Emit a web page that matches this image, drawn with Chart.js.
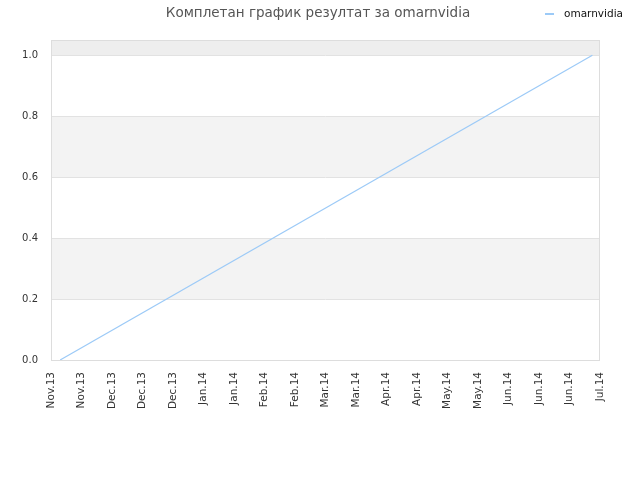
<!DOCTYPE html>
<html>
<head>
<meta charset="utf-8">
<script src="https://cdn.jsdelivr.net/npm/chart.js@4"></script>
<style>
  html, body { margin: 0; padding: 0; background: #fff; }
  #wrap { width: 640px; height: 480px; }
</style>
</head>
<body>
<div id="wrap"><canvas id="chart"></canvas></div>
<script>
var chartTitle = 'Комплетан график резултат за omarnvidia';
var seriesName = 'omarnvidia';
var monthLabels = ['Nov.13', 'Nov.13', 'Dec.13', 'Dec.13', 'Dec.13', 'Jan.14', 'Jan.14', 'Feb.14', 'Feb.14',
                   'Mar.14', 'Mar.14', 'Apr.14', 'Apr.14', 'May.14', 'May.14', 'Jun.14', 'Jun.14', 'Jun.14', 'Jul.14'];
// position along the date axis (in label steps) and result value
var pointPos = [0.3, 17.75];
var pointVal = [0, 1];
var yTicks = [0, 0.2, 0.4, 0.6, 0.8, 1.0];
var yMax = 1.05;

var points = pointPos.map(function (p, i) { return { x: p, y: pointVal[i] }; });

// alternating background bands + frame, title and legend
var decor = {
  id: 'decor',
  beforeDatasetsDraw: function (chart) {
    var c = chart.ctx, a = chart.chartArea, y = chart.scales.y;
    c.save();
    var bands = [[0.2, 0.4, '#f3f3f3'], [0.6, 0.8, '#f3f3f3'], [1.0, yMax, '#eeeeee']];
    bands.forEach(function (b) {
      var top = y.getPixelForValue(b[1]), bot = y.getPixelForValue(b[0]);
      c.fillStyle = b[2];
      c.fillRect(a.left, top, a.right - a.left, bot - top);
    });
    yTicks.forEach(function (t) {
      var py = Math.round(y.getPixelForValue(t)) + 0.5;
      c.strokeStyle = '#e2e2e2';
      c.lineWidth = 1;
      c.beginPath(); c.moveTo(a.left, py); c.lineTo(a.right, py); c.stroke();
    });
    c.strokeStyle = '#dddddd';
    c.strokeRect(a.left + 0.5, a.top + 0.5, a.right - a.left - 1, a.bottom - a.top);
    c.restore();
  },
  afterDraw: function (chart) {
    var c = chart.ctx;
    c.save();
    c.font = '13.5px "DejaVu Sans", sans-serif';
    c.fillStyle = '#555555';
    c.textAlign = 'center';
    c.textBaseline = 'middle';
    c.fillText(chartTitle, 318, 13);
    c.strokeStyle = '#9ccaf7';
    c.lineWidth = 2;
    c.beginPath(); c.moveTo(545, 14); c.lineTo(554, 14); c.stroke();
    c.font = '10.5px "DejaVu Sans", sans-serif';
    c.fillStyle = '#111111';
    c.textAlign = 'left';
    c.fillText(seriesName, 564, 14);
    c.restore();
  }
};

new Chart(document.getElementById('chart'), {
  type: 'line',
  data: {
    datasets: [{
      label: seriesName,
      data: points,
      borderColor: '#9ccaf7',
      borderWidth: 1.2,
      pointRadius: 0,
      fill: false,
      tension: 0
    }]
  },
  options: {
    responsive: true,
    maintainAspectRatio: false,
    animation: false,
    layout: { padding: { top: 40, right: 40, left: 0, bottom: 0 } },
    plugins: {
      legend: { display: false },
      title: { display: false },
      tooltip: { enabled: false }
    },
    scales: {
      x: {
        type: 'linear',
        min: 0,
        max: monthLabels.length - 1,
        afterBuildTicks: function (s) {
          s.ticks = monthLabels.map(function (l, i) { return { value: i }; });
        },
        afterFit: function (s) { s.height = 120; },
        grid: { display: false, drawTicks: false },
        border: { display: false },
        ticks: {
          autoSkip: false,
          maxRotation: 90,
          minRotation: 90,
          padding: 12,
          color: '#333333',
          font: { family: '"DejaVu Sans", sans-serif', size: 10.5 },
          callback: function (v) { return monthLabels[v]; }
        }
      },
      y: {
        min: 0,
        max: yMax,
        afterBuildTicks: function (s) {
          s.ticks = yTicks.map(function (v) { return { value: v }; });
        },
        afterFit: function (s) { s.width = 51; },
        grid: { display: false, drawTicks: false },
        border: { display: false },
        ticks: {
          padding: 13,
          color: '#333333',
          font: { family: '"DejaVu Sans", sans-serif', size: 10 },
          callback: function (v) { return v.toFixed(1); }
        }
      }
    }
  },
  plugins: [decor]
});
</script>
</body>
</html>
